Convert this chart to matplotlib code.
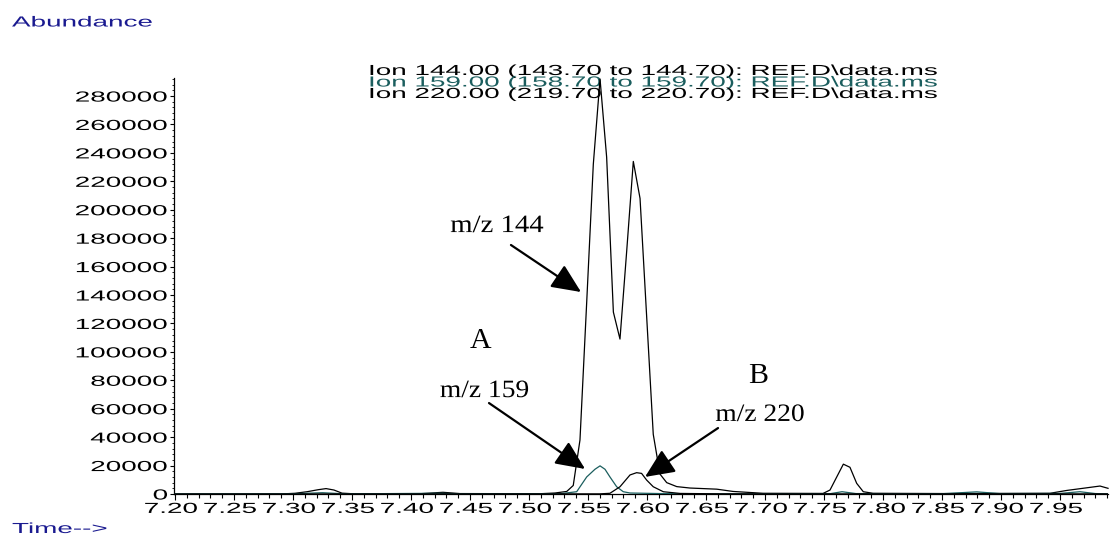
import matplotlib.pyplot as plt
from matplotlib.patheffects import AbstractPathEffect
from matplotlib.transforms import Affine2D
from matplotlib.ticker import MultipleLocator

# retention time (min) / abundance
t_144 = [7.2000, 7.2890, 7.3017, 7.3119, 7.3212, 7.3280, 7.3347, 7.3415, 7.3525,
         7.4076, 7.4271, 7.4415, 7.5093, 7.5220, 7.5320, 7.5375, 7.5432, 7.5489,
         7.5545, 7.5602, 7.5658, 7.5715, 7.5771, 7.5828, 7.5884, 7.5941, 7.5997,
         7.6053, 7.6110, 7.6167, 7.6252, 7.6364, 7.6591, 7.6729, 7.6983, 7.7492,
         7.7551, 7.7608, 7.7664, 7.7720, 7.7777, 7.7833, 7.7915, 7.8568, 7.8990,
         7.9415, 7.9557, 7.9712, 7.9839, 7.9907]
a_144 = [0, 0, 500, 1600, 3000, 3800, 2800, 600, 100,
         200, 1200, 300, 200, 700, 1800, 6000, 38000, 135000,
         232000, 292000, 237000, 128000, 109000, 171000, 234000, 208000, 125000,
         42000, 14000, 8000, 5200, 4200, 3400, 1800, 500, 400,
         2800, 12000, 21000, 18800, 7500, 1600, 500, 300, 400,
         500, 2500, 4200, 5600, 4000]

t_159 = [7.2000, 7.2975, 7.3250, 7.3440, 7.4246, 7.4420, 7.5263, 7.5404, 7.5489,
         7.5559, 7.5602, 7.5644, 7.5686, 7.5743, 7.5799, 7.5856, 7.6110, 7.6450,
         7.7550, 7.7653, 7.7771, 7.8500, 7.8794, 7.8990, 7.9500, 7.9669, 7.9800,
         7.9907]
a_159 = [0, 100, 900, 100, 500, 100, 200, 1600, 12000,
         17400, 19800, 17400, 12000, 5100, 1600, 700, 300, 100,
         200, 1600, 300, 200, 1500, 300, 400, 1600, 300,
         100]

t_220 = [7.2000, 7.5602, 7.5686, 7.5771, 7.5856, 7.5912, 7.5954, 7.5997, 7.6053,
         7.6138, 7.6280, 7.6620, 7.9907]
a_220 = [0, 100, 500, 5100, 13400, 15000, 14500, 9800, 5100,
         1600, 400, 100, 100]

ion_lines = ['Ion 144.00 (143.70 to 144.70): REF.D\\data.ms',
             'Ion 159.00 (158.70 to 159.70): REF.D\\data.ms',
             'Ion 220.00 (219.70 to 220.70): REF.D\\data.ms']
xticks = [7.20, 7.25, 7.30, 7.35, 7.40, 7.45, 7.50, 7.55,
          7.60, 7.65, 7.70, 7.75, 7.80, 7.85, 7.90, 7.95]
xlabels = ['%.2f' % v for v in xticks]
yticks = list(range(0, 300000, 20000))

TEAL = '#1b5e5e'
NAVY = '#1a1a90'
SX = 1.91   # the screenshot was stretched sideways


class Widen(AbstractPathEffect):
    # widen glyphs horizontally about the text anchor
    def __init__(self, sx, ha='left', dx=0):
        super().__init__()
        self.sx, self.ha, self.dx = sx, ha, dx

    def draw_path(self, renderer, gc, tpath, affine, rgbFace=None):
        ext = tpath.get_extents()
        px = {'left': 0, 'center': (ext.x0 + ext.x1) / 2, 'right': ext.x1}[self.ha]
        st = Affine2D().translate(-px, 0).scale(self.sx, 1).translate(px, 0)
        renderer.draw_path(gc, tpath, st + affine + Affine2D().translate(self.dx, 0), rgbFace)


plt.rcParams['font.family'] = 'Liberation Sans'
fs = 10.5

fig = plt.figure(figsize=(11.1, 5.4), dpi=100)
ax = fig.add_axes([174 / 1110, 1 - 494 / 540, 934 / 1110, 416 / 540])
ax.set_xlim(7.20 - 1 / 1180, 7.20 - 1 / 1180 + 934 / 1180)
ax.set_ylim(0, 292700)

ax.plot(t_144, a_144, color='black', lw=0.9, zorder=3, clip_on=False)
ax.plot(t_159, a_159, color=TEAL, lw=0.9, zorder=3)
ax.plot(t_220, a_220, color='black', lw=0.9, zorder=3)

for sp in ['top', 'right']:
    ax.spines[sp].set_visible(False)
ax.spines['left'].set_linewidth(0.9)
ax.spines['bottom'].set_linewidth(0.9)

ax.set_xticks(xticks)
ax.set_xticklabels(xlabels)
ax.xaxis.set_minor_locator(MultipleLocator(0.01))
ax.set_yticks(yticks)
ax.yaxis.set_minor_locator(MultipleLocator(4000))
ax.tick_params(axis='x', which='major', length=4.5, width=0.8, pad=1.2, labelsize=fs)
ax.tick_params(axis='x', which='minor', length=3, width=0.8)
ax.tick_params(axis='y', which='major', length=3, width=0.8, pad=1.5, labelsize=fs)
ax.tick_params(axis='y', which='minor', length=1.5, width=0.6)
for lbl in ax.get_xticklabels():
    lbl.set_path_effects([Widen(SX, 'center', -4)])
for lbl in ax.get_yticklabels():
    lbl.set_path_effects([Widen(SX, 'right')])

fig.text(12 / 1110, 1 - 26.5 / 540, 'Abundance', color=NAVY, fontsize=fs,
         va='baseline', path_effects=[Widen(SX)])
fig.text(12 / 1110, 1 - 533 / 540, 'Time-->', color=NAVY, fontsize=fs,
         va='baseline', path_effects=[Widen(SX)])

for i, (s, c) in enumerate(zip(ion_lines, ['black', TEAL, 'black'])):
    ax.text(368 / 1110, 1 - (75 + 11.5 * i) / 540, s, color=c, fontsize=fs,
            va='baseline', transform=fig.transFigure, zorder=1, clip_on=False,
            path_effects=[Widen(SX)])

arrow = dict(arrowstyle='-|>,head_length=1.0,head_width=0.45', color='black',
             lw=1.6, mutation_scale=18, shrinkA=0, shrinkB=0)
ax.annotate('', xy=(7.5441, 142100), xytext=(7.4847, 175200), arrowprops=arrow)
ax.annotate('', xy=(7.5475, 17600), xytext=(7.4661, 64000), arrowprops=arrow)
ax.annotate('', xy=(7.5983, 12000), xytext=(7.6602, 46400), arrowprops=arrow)

serif = 'Liberation Serif'
ax.text(7.4729, 184300, 'm/z 144', family=serif, fontsize=18, ha='center',
        va='baseline', path_effects=[Widen(1.15, 'center')])
ax.text(7.4623, 68200, 'm/z 159', family=serif, fontsize=18, ha='center',
        va='baseline', path_effects=[Widen(1.1, 'center')])
ax.text(7.6958, 51400, 'm/z 220', family=serif, fontsize=18, ha='center',
        va='baseline', path_effects=[Widen(1.1, 'center')])
ax.text(7.4585, 102700, 'A', family=serif, fontsize=21.5, ha='center', va='baseline')
ax.text(7.6941, 78100, 'B', family=serif, fontsize=21.5, ha='center', va='baseline')

fig.savefig('out.png', dpi=100)
